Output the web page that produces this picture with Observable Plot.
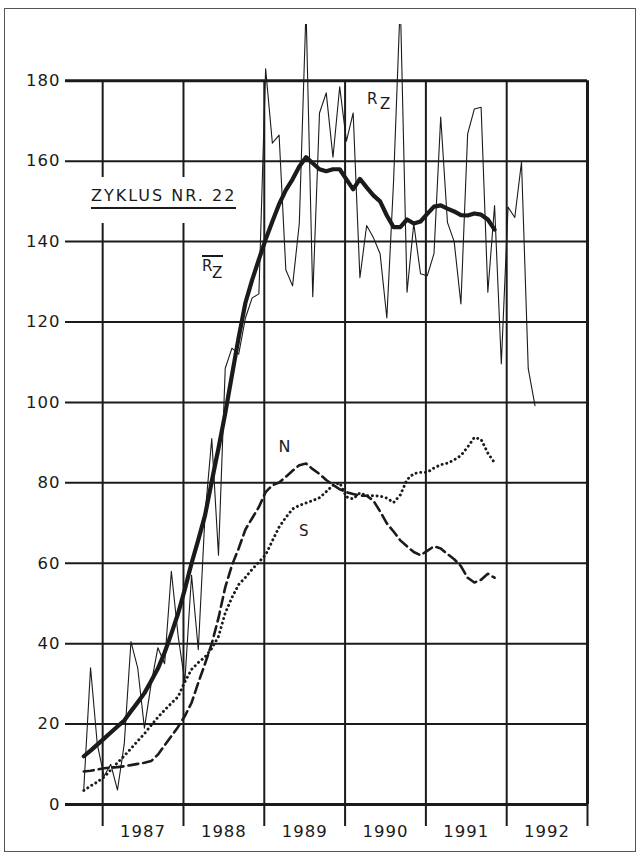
<!DOCTYPE html>
<html>
<head>
<meta charset="utf-8">
<script src="https://cdn.jsdelivr.net/npm/d3@7"></script>
<script src="https://cdn.jsdelivr.net/npm/@observablehq/plot@0.6"></script>
<style>
  html, body { margin: 0; padding: 0; background: #fff; }
  #wrap { position: relative; width: 640px; height: 857px; overflow: hidden; background: #fff; }
  #chart svg text { letter-spacing: 1px; }
  #border { position: absolute; left: 4px; top: 8px; width: 632px; height: 844px; border: 1.5px solid #555; box-sizing: border-box; pointer-events: none; }
  .lbl { position: absolute; font-family: "DejaVu Sans", sans-serif; color: #1b1b1b; line-height: 1; white-space: nowrap; }
  #titlebox { position: absolute; left: 84px; top: 177px; width: 162px; height: 46px; background: #fff; }
  #title { position: absolute; left: 7px; top: 11px; font-size: 16px; letter-spacing: 2px; padding-bottom: 3px; border-bottom: 2px solid #1b1b1b; }
  .s15 { font-size: 15px; }
  .s16 { font-size: 16px; }
  #bar { position: absolute; left: 202px; top: 255px; width: 21px; height: 1.6px; background: #1b1b1b; }
</style>
</head>
<body>
<div id="wrap">
  <div id="chart"></div>
  <div id="titlebox"><span id="title" class="lbl">ZYKLUS NR. 22</span></div>
  <span class="lbl s15" style="left:367px; top:92px;">R</span>
  <span class="lbl s15" style="left:380px; top:97px;">Z</span>
  <div id="bar"></div>
  <span class="lbl s15" style="left:202px; top:259px;">R</span>
  <span class="lbl s15" style="left:212px; top:266px;">Z</span>
  <span class="lbl s16" style="left:278.5px; top:438.5px;">N</span>
  <span class="lbl s15" style="left:299px; top:524px;">S</span>
  <div id="border"></div>
</div>
<script>
// ---- data ----
// monthly values, first month = September 1986
const firstYear = 1986;
const firstMonth = 9;

// monthly sunspot number Rz, Sep 1986 .. Apr 1992
const rzMonthly = [
  4, 34, 15, 7,
  10, 3.6, 15, 40.5, 34, 19, 30, 39, 35, 58, 42, 30.5,
  57, 38.5, 72, 91, 62, 108.5, 113.5, 112, 121, 126, 127, 183,
  164.5, 166.5, 133, 129, 144.5, 198, 126.3, 172, 177, 161, 178.5, 165,
  172, 131, 144, 141, 137, 121, 155, 200, 127.4, 144.5, 132, 131.5,
  137, 171, 144.8, 140, 124.5, 166.8, 173, 173.4, 127.4, 149, 109.6, 148.6,
  146, 159.8, 108.4, 99.2
];

// smoothed Rz (R-bar z), Sep 1986 .. Oct 1991
const rzSmoothed = [
  12, 13.4, 14.9, 16.4,
  17.9, 19.4, 20.9, 23.2, 25.4, 27.7, 30.7, 33.8, 37.8, 42.5, 47.5, 53.5,
  60, 65.8, 71.9, 80.4, 88.6, 97.3, 106.8, 116.2, 124.8, 130.5, 135.6, 140.5,
  145, 149.3, 152.8, 155.5, 158.7, 161, 159.5, 158, 157.5, 158, 158, 155.5,
  153, 155.6, 153.5, 151.5, 150, 146.5, 143.6, 143.6, 145.5, 144.5, 145, 146.9,
  148.7, 149, 148.2, 147.5, 146.6, 146.5, 147, 146.7, 145.5, 143
];

// northern hemisphere (N), Sep 1986 .. Oct 1991
const northSmoothed = [
  8.2, 8.4, 8.7, 9.0,
  9.2, 9.3, 9.5, 9.8, 10.1, 10.4, 10.8, 12.4, 14.7, 17, 19.3, 22,
  25.3, 30.3, 35, 40, 46.4, 54, 59.5, 63.7, 68.4, 71.2, 74, 77.7,
  79.4, 80.1, 81.5, 83, 84.4, 84.8, 83.4, 82.2, 80.7, 79.5, 78.4, 77.7,
  77.2, 76.8, 76.8, 75.6, 72.9, 69.9, 67.9, 65.7, 64.2, 62.8, 62, 63.1,
  64.2, 63.7, 62.3, 61, 59.3, 56.4, 55.2, 55.9, 57.4, 56.4
];

// southern hemisphere (S), Sep 1986 .. Oct 1991
const southSmoothed = [
  3.5, 4.6, 5.6, 6.8,
  8.6, 10.4, 12.1, 13.9, 15.8, 17.6, 19.7, 21.7, 23.5, 25.2, 26.8, 30.5,
  33.6, 35.3, 36.7, 38.8, 41.8, 47.6, 51.5, 54.7, 56.5, 58.5, 60.3, 62.1,
  65.6, 69, 71.4, 73.5, 74.4, 75, 75.6, 76.3, 77.8, 79.4, 80, 76.5,
  76, 77.5, 76.8, 76.8, 76.7, 76.2, 75.1, 77, 80.8, 82.3, 82.6, 82.6,
  83.7, 84.5, 84.9, 85.7, 86.8, 88.9, 91.3, 90.8, 87.4, 85
];

const yTicks = [0, 20, 40, 60, 80, 100, 120, 140, 160, 180];
const yearBoundaries = [1987, 1988, 1989, 1990, 1991, 1992, 1993];
const yearLabels = ["1987", "1988", "1989", "1990", "1991", "1992"];

// ---- build tables ----
const toSeries = (arr) => arr.map((v, i) => ({
  t: firstYear + (firstMonth - 1 + i + 1.2) / 12,
  v
}));
const rzData = toSeries(rzMonthly);
const rzBarData = toSeries(rzSmoothed);
const nData = toSeries(northSmoothed);
const sData = toSeries(southSmoothed);
const labelPos = yearLabels.map(l => ({pos: +l + 0.5, label: l}));

const ink = "#1b1b1b";
const yTop = yTicks[yTicks.length - 1];
const lastBoundary = yearBoundaries[yearBoundaries.length - 1];

const chart = Plot.plot({
  width: 640,
  height: 857,
  marginLeft: 65,
  marginRight: 53,
  marginTop: 24,
  marginBottom: 53,
  style: {fontFamily: "DejaVu Sans, sans-serif", fontSize: "16.5px", color: ink, background: "transparent"},
  x: {domain: [1986.54, 1993], label: null},
  y: {domain: [0, 194], label: null},
  marks: [
    // horizontal grid
    Plot.ruleY(yTicks, {stroke: ink, strokeWidth: d => (d === 0 || d === yTop) ? 3 : 2}),
    // vertical grid
    Plot.ruleX(yearBoundaries, {y1: yTicks[0], y2: yTop, stroke: ink, strokeWidth: d => d === lastBoundary ? 3 : 2}),
    // tick extensions below the zero line
    Plot.axisX(yearBoundaries, {tickSize: 22, tickFormat: () => "", strokeWidth: 2, stroke: ink, label: null}),
    // year labels centred in each year
    Plot.axisX(labelPos.map(d => d.pos), {tickSize: 0, tickPadding: 21, tickFormat: (d, i) => labelPos[i].label, label: null}),
    // y labels
    Plot.axisY(yTicks, {tickSize: 0, tickPadding: 5, label: null}),
    // data
    Plot.line(rzData, {x: "t", y: "v", stroke: ink, strokeWidth: 1.1, clip: true}),
    Plot.line(nData, {x: "t", y: "v", stroke: ink, strokeWidth: 2.6, strokeDasharray: "10,5"}),
    Plot.line(sData, {x: "t", y: "v", stroke: ink, strokeWidth: 2.9, strokeDasharray: "0.1,4.6", strokeLinecap: "round"}),
    Plot.line(rzBarData, {x: "t", y: "v", stroke: ink, strokeWidth: 4.2, strokeLinejoin: "round", strokeLinecap: "round"})
  ]
});
document.getElementById("chart").appendChild(chart);
</script>
</body>
</html>
